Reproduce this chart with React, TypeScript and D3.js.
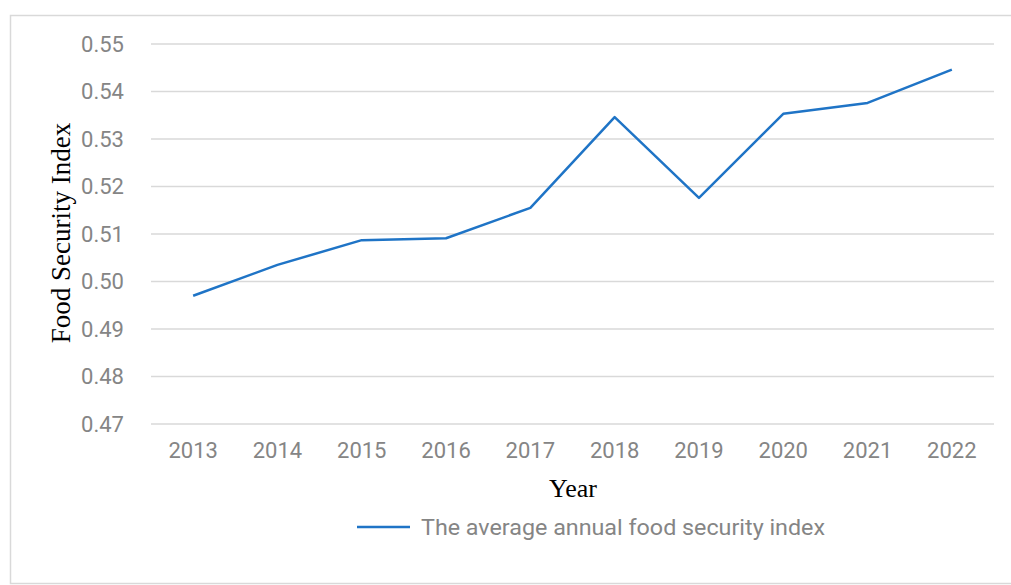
import React from "react";
import * as d3 from "d3";

const years = ["2013", "2014", "2015", "2016", "2017", "2018", "2019", "2020", "2021", "2022"];
const foodSecurityIndex = [0.497, 0.5035, 0.5087, 0.5091, 0.5155, 0.5346, 0.5176, 0.5353, 0.5376, 0.5446];
const yTicks = [0.47, 0.48, 0.49, 0.5, 0.51, 0.52, 0.53, 0.54, 0.55];
const seriesName = "The average annual food security index";

const W = 1011;
const H = 585;
const plot = { left: 151, right: 994, top: 44, bottom: 424 };

export default function App() {
  const x = d3.scaleBand<string>().domain(years).range([plot.left, plot.right]).padding(0);
  const y = d3.scaleLinear().domain([0.47, 0.55]).range([plot.bottom, plot.top]);
  const line = d3
    .line<number>()
    .x((_, i) => (x(years[i]) as number) + x.bandwidth() / 2)
    .y((d) => y(d));
  const tickFont = "Roboto, 'Noto Sans', sans-serif";
  return (
    <svg
      width={W}
      height={H}
      style={{ position: "absolute", left: 0, top: 0, background: "#fff" }}
    >
      <rect x={10.5} y={15.5} width={W + 10} height={H - 17} fill="none" stroke="#d9d9d9" strokeWidth={1.5} />
      {yTicks.map((t) => (
        <g key={t}>
          <line x1={plot.left} x2={plot.right} y1={y(t)} y2={y(t)} stroke="#d9d9d9" strokeWidth={1.5} />
          <text
            x={124}
            y={y(t)}
            dy="0.36em"
            textAnchor="end"
            fontFamily={tickFont}
            fontSize={22}
            fill="#858585"
          >
            {t.toFixed(2)}
          </text>
        </g>
      ))}
      {years.map((yr) => (
        <text
          key={yr}
          x={(x(yr) as number) + x.bandwidth() / 2}
          y={458}
          textAnchor="middle"
          fontFamily={tickFont}
          fontSize={22}
          fill="#858585"
        >
          {yr}
        </text>
      ))}
      <path d={line(foodSecurityIndex) || ""} fill="none" stroke="#1f74c6" strokeWidth={2.5} strokeLinejoin="round" />
      <text
        transform={`translate(70,233) rotate(-90)`}
        textAnchor="middle"
        fontFamily="'Liberation Serif', 'Times New Roman', serif"
        fontSize={27}
        fill="#000"
      >
        Food Security Index
      </text>
      <text
        x={573}
        y={497}
        textAnchor="middle"
        fontFamily="'Liberation Serif', 'Times New Roman', serif"
        fontSize={26}
        fill="#000"
      >
        Year
      </text>
      <line x1={357} x2={410} y1={527} y2={527} stroke="#1f74c6" strokeWidth={2.5} />
      <text
        x={421}
        y={527}
        dy="0.36em"
        fontFamily={tickFont}
        fontSize={22.5}
        textLength={404}
        lengthAdjust="spacingAndGlyphs"
        fill="#858585"
      >
        {seriesName}
      </text>
    </svg>
  );
}
